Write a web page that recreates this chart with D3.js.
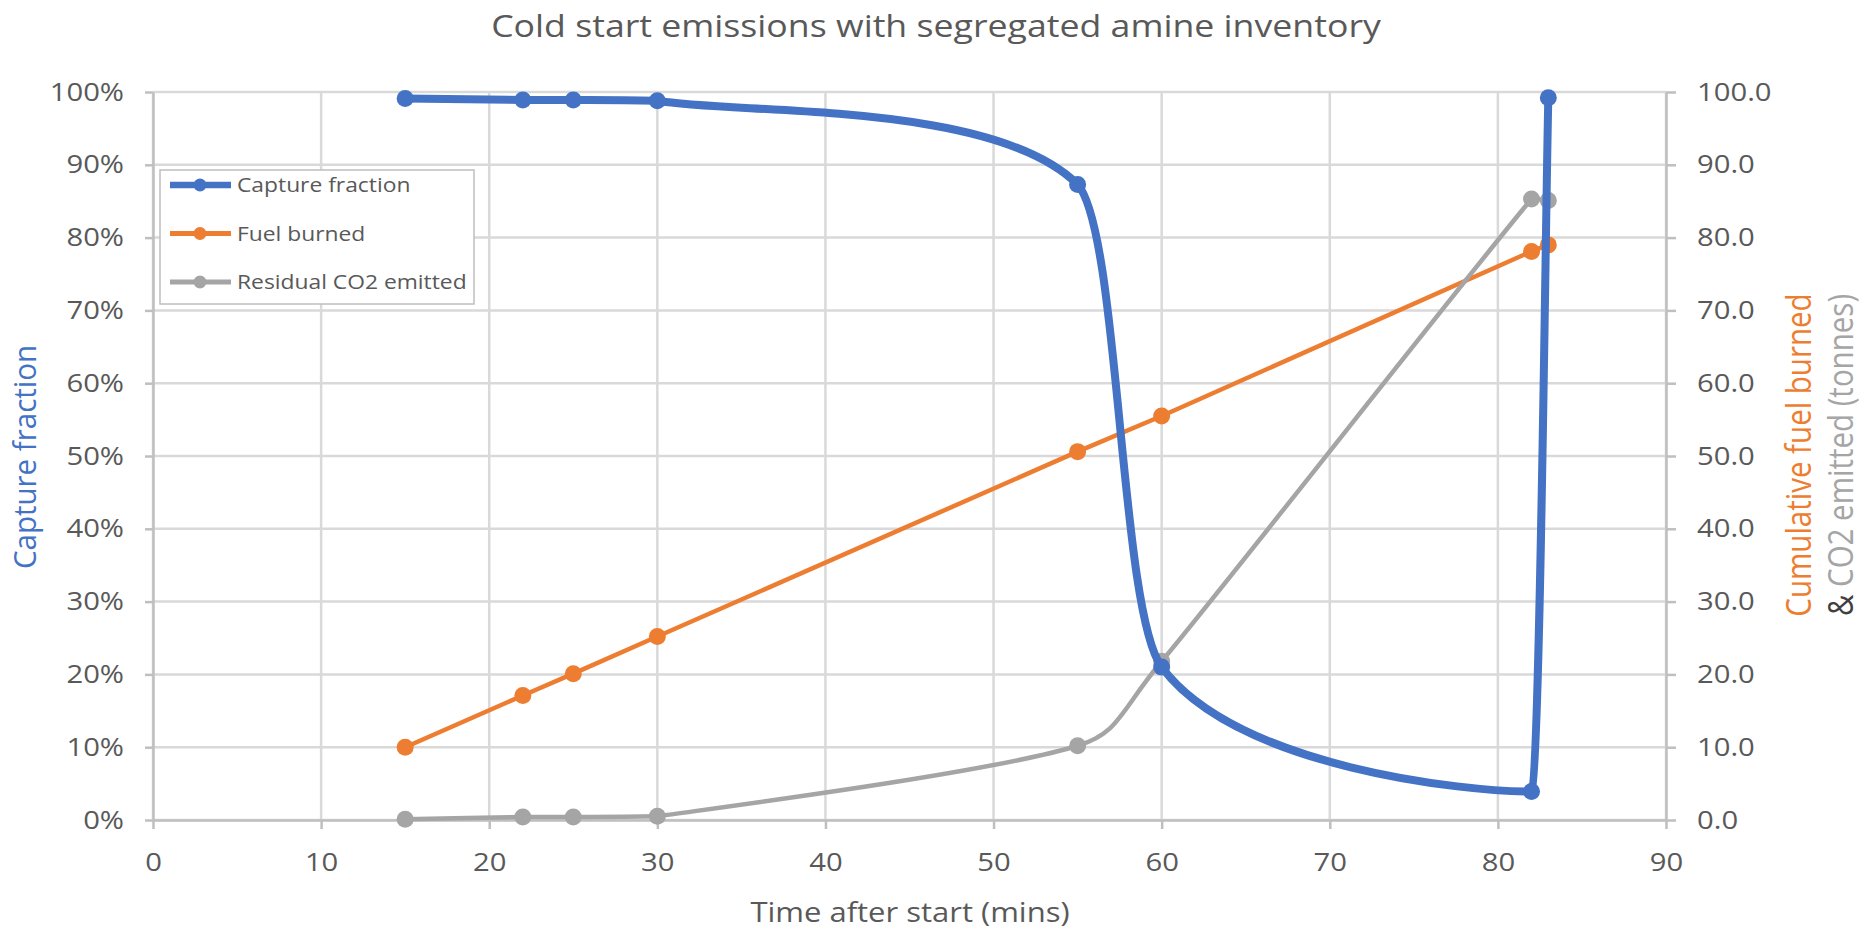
<!DOCTYPE html>
<html>
<head>
<meta charset="utf-8">
<script src="https://cdn.jsdelivr.net/npm/d3@7"></script>
<style>
  html, body { margin: 0; padding: 0; background: #fff; }
  svg { display: block; font-family: "Open Sans", "Noto Sans", sans-serif; }
</style>
</head>
<body>
<svg id="chart" width="1869" height="932"></svg>
<script>
// ---- data ----
const timeMins = [15, 22, 25, 30, 55, 60, 82, 83];
const captureFraction = [0.991, 0.989, 0.989, 0.988, 0.873, 0.21, 0.039, 0.992];
const fuelBurned = [10.0, 17.1, 20.1, 25.2, 50.6, 55.5, 78.1, 79.0];
const residualCO2 = [0.1, 0.4, 0.4, 0.5, 10.2, 21.8, 85.3, 85.1];

const xTicks = [0, 10, 20, 30, 40, 50, 60, 70, 80, 90];
const yLeftTicks = [0, 0.1, 0.2, 0.3, 0.4, 0.5, 0.6, 0.7, 0.8, 0.9, 1.0];
const yRightTicks = [0, 10, 20, 30, 40, 50, 60, 70, 80, 90, 100];

const seriesNames = ["Capture fraction", "Fuel burned", "Residual CO2 emitted"];
const titleText = "Cold start emissions with segregated amine inventory";
const xTitle = "Time after start (mins)";
const yLeftTitle = "Capture fraction";
const yRightTitle1 = "Cumulative fuel burned";
const yRightTitle2a = "&";
const yRightTitle2b = " CO2 emitted (tonnes)";

// ---- layout / style ----
const S = 1.17; // horizontal text stretch of reference
const C = { blue: "#4472C4", orange: "#ED7D31", gray: "#A5A5A5", text: "#595959", grid: "#D9D9D9", axis: "#BFBFBF" };
const L = 153, R = 1666, T = 92, B = 820;

const svg = d3.select("#chart");

const x = d3.scaleLinear().domain([0, 90]).range([L, R]);
const yL = d3.scaleLinear().domain([0, 1]).range([B, T]);
const yR = d3.scaleLinear().domain([0, 100]).range([B, T]);

// Excel-like smoothing: Catmull-Rom Bezier, tangents limited to stay inside each segment
function ExcelSmooth(context) { this._context = context; }
ExcelSmooth.prototype = {
  areaStart() { this._line = 0; },
  areaEnd() { this._line = NaN; },
  lineStart() { this._pts = []; },
  point(px, py) { this._pts.push([+px, +py]); },
  lineEnd() {
    const p = this._pts, c = this._context, n = p.length;
    if (!n) return;
    c.moveTo(p[0][0], p[0][1]);
    const clamp = (v, a, b) => Math.max(Math.min(a, b), Math.min(Math.max(a, b), v));
    const limit = (ox, oy, dx) => {
      const lim = Math.abs(dx) / 2;
      if (Math.abs(ox) > lim && ox !== 0) { const k = lim / Math.abs(ox); return [ox * k, oy * k]; }
      return [ox, oy];
    };
    for (let i = 0; i < n - 1; i++) {
      const p0 = p[i - 1] || p[i], p1 = p[i], p2 = p[i + 1], p3 = p[i + 2] || p[i + 1];
      const dx = p2[0] - p1[0];
      const o1 = limit((p2[0] - p0[0]) / 6, (p2[1] - p0[1]) / 6, dx);
      const o2 = limit((p3[0] - p1[0]) / 6, (p3[1] - p1[1]) / 6, dx);
      const c1x = clamp(p1[0] + o1[0], p1[0], p2[0]), c1y = clamp(p1[1] + o1[1], p1[1], p2[1]);
      const c2x = clamp(p2[0] - o2[0], p1[0], p2[0]), c2y = clamp(p2[1] - o2[1], p1[1], p2[1]);
      c.bezierCurveTo(c1x, c1y, c2x, c2y, p2[0], p2[1]);
    }
  }
};
const excelCurve = ctx => new ExcelSmooth(ctx);

function stretchText(sel) {
  sel.each(function () {
    const t = d3.select(this);
    const tx = +(t.attr("x") || 0);
    t.attr("transform", `translate(${tx},0) scale(${S},1) translate(${-tx},0)`);
  });
}

// ---- gridlines ----
const grid = svg.append("g");
grid.selectAll("line.h").data(yLeftTicks).join("line")
  .attr("x1", L).attr("x2", R).attr("y1", d => yL(d)).attr("y2", d => yL(d))
  .attr("stroke", C.grid).attr("stroke-width", 2.5);
grid.selectAll("line.v").data(xTicks).join("line")
  .attr("x1", d => x(d)).attr("x2", d => x(d)).attr("y1", T).attr("y2", B)
  .attr("stroke", C.grid).attr("stroke-width", 2.5);

// ---- axes ----
function styleAxis(g) {
  g.select(".domain").attr("stroke", C.axis).attr("stroke-width", 2.5);
  g.selectAll(".tick line").attr("stroke", C.axis).attr("stroke-width", 2.5);
  g.selectAll(".tick text").attr("fill", C.text).style("font-size", "25px")
    .style("font-family", '"Open Sans", sans-serif');
  stretchText(g.selectAll(".tick text"));
}
svg.append("g").attr("transform", `translate(${L},0)`)
  .call(d3.axisLeft(yL).tickValues(yLeftTicks).tickFormat(d3.format(".0%")).tickSize(8).tickSizeOuter(0).tickPadding(21))
  .call(styleAxis);
svg.append("g").attr("transform", `translate(${R},0)`)
  .call(d3.axisRight(yR).tickValues(yRightTicks).tickFormat(d3.format(".1f")).tickSize(10).tickSizeOuter(0).tickPadding(21))
  .call(styleAxis);
svg.append("g").attr("transform", `translate(0,${B})`)
  .call(d3.axisBottom(x).tickValues(xTicks).tickFormat(d3.format("d")).tickSize(9).tickSizeOuter(0).tickPadding(24))
  .call(styleAxis);

// ---- titles ----
svg.append("text").attr("transform", `translate(936,37) scale(${S},1)`)
  .attr("text-anchor", "middle").attr("fill", C.text).style("font-size", "30.5px").text(titleText);
svg.append("text").attr("transform", `translate(910,922) scale(${S},1)`)
  .attr("text-anchor", "middle").attr("fill", C.text).style("font-size", "26.5px").text(xTitle);
svg.append("text").attr("transform", `translate(36,457) scale(1.08,1) rotate(-90)`)
  .attr("text-anchor", "middle").attr("fill", C.blue).style("font-size", "29.5px").text(yLeftTitle);
svg.append("text").attr("transform", `translate(1811,455) scale(${S},1) rotate(-90)`)
  .attr("text-anchor", "middle").attr("fill", C.orange).style("font-size", "29.5px").text(yRightTitle1);
const rt2 = svg.append("text").attr("transform", `translate(1853,455) scale(${S},1) rotate(-90)`)
  .attr("text-anchor", "middle").style("font-size", "29.5px");
rt2.append("tspan").attr("fill", "#404040").text(yRightTitle2a);
rt2.append("tspan").attr("fill", C.gray).text(yRightTitle2b);

// ---- series ----
const series = [
  { name: seriesNames[1], vals: fuelBurned, y: yR, color: C.orange, width: 4.5, r: 8.5, curve: d3.curveLinear },
  { name: seriesNames[2], vals: residualCO2, y: yR, color: C.gray, width: 4.5, r: 8.5, curve: excelCurve },
  { name: seriesNames[0], vals: captureFraction, y: yL, color: C.blue, width: 8, r: 8.5, curve: excelCurve }
];
series.forEach(s => {
  const pts = timeMins.map((t, i) => [t, s.vals[i]]);
  const line = d3.line().x(d => x(d[0])).y(d => s.y(d[1])).curve(s.curve);
  const g = svg.append("g");
  g.append("path").attr("d", line(pts)).attr("fill", "none").attr("stroke", s.color)
    .attr("stroke-width", s.width).attr("stroke-linejoin", "round").attr("stroke-linecap", "round");
  g.selectAll("circle").data(pts).join("circle")
    .attr("cx", d => x(d[0])).attr("cy", d => s.y(d[1])).attr("r", s.r).attr("fill", s.color);
});

// ---- legend ----
const legend = svg.append("g");
legend.append("rect").attr("x", 160).attr("y", 170).attr("width", 314).attr("height", 134)
  .attr("fill", "#fff").attr("stroke", C.axis).attr("stroke-width", 1.5);
const legendItems = [
  { name: seriesNames[0], color: C.blue, w: 6.5 },
  { name: seriesNames[1], color: C.orange, w: 5 },
  { name: seriesNames[2], color: C.gray, w: 5 }
];
legendItems.forEach((it, i) => {
  const cy = 185 + i * 48.5;
  legend.append("line").attr("x1", 170).attr("x2", 231).attr("y1", cy).attr("y2", cy)
    .attr("stroke", it.color).attr("stroke-width", it.w);
  legend.append("circle").attr("cx", 200).attr("cy", cy).attr("r", 6.5).attr("fill", it.color);
  legend.append("text").attr("transform", `translate(237,${cy + 7}) scale(${S},1)`)
    .attr("fill", C.text).style("font-size", "19.5px").text(it.name);
});
</script>
</body>
</html>
